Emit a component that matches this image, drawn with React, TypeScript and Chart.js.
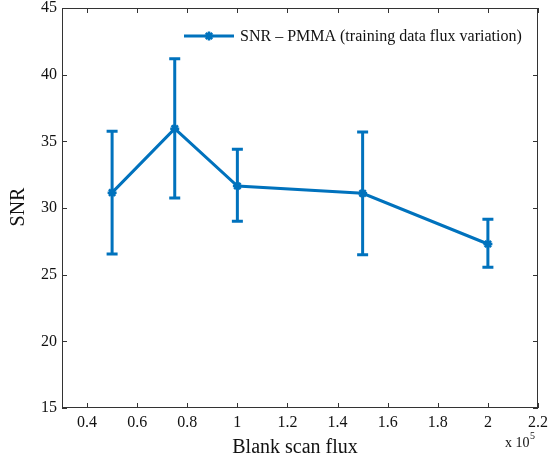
import React, { useEffect, useRef } from "react";
import { Chart, registerables } from "chart.js";

Chart.register(...registerables);

const flux = [50000, 75000, 100000, 150000, 200000];
const snrMean = [31.15, 35.95, 31.65, 31.1, 27.3];
const snrLow = [26.55, 30.75, 29.0, 26.5, 25.55];
const snrHigh = [35.75, 41.2, 34.4, 35.7, 29.15];
const xTickValues = [40000, 60000, 80000, 100000, 120000, 140000, 160000, 180000, 200000, 220000];
const yTickValues = [15, 20, 25, 30, 35, 40, 45];
const seriesLabel = "SNR \u2013 PMMA (training data flux variation)";
const xTitle = "Blank scan flux";
const yTitle = "SNR";

const BLUE = "#0072BD";
const SERIF = "'Liberation Serif', 'DejaVu Serif', serif";

const decorPlugin = {
  id: "decor",
  afterDatasetsDraw(chart: any) {
    const { ctx, chartArea: a, scales } = chart;
    const xs = scales.x;
    const ys = scales.y;
    ctx.save();
    // error bars
    ctx.strokeStyle = BLUE;
    ctx.lineWidth = 3;
    ctx.lineCap = "butt";
    for (let i = 0; i < flux.length; i++) {
      const px = xs.getPixelForValue(flux[i]);
      const pl = ys.getPixelForValue(snrLow[i]);
      const ph = ys.getPixelForValue(snrHigh[i]);
      ctx.beginPath();
      ctx.moveTo(px, pl);
      ctx.lineTo(px, ph);
      ctx.moveTo(px - 5.5, pl);
      ctx.lineTo(px + 5.5, pl);
      ctx.moveTo(px - 5.5, ph);
      ctx.lineTo(px + 5.5, ph);
      ctx.stroke();
    }
    // box
    ctx.strokeStyle = "#333";
    ctx.lineWidth = 1;
    ctx.strokeRect(a.left + 0.5, a.top + 0.5, a.right - a.left - 1, a.bottom - a.top - 1);
    // inward ticks
    ctx.beginPath();
    for (const v of xTickValues) {
      const px = Math.round(xs.getPixelForValue(v)) + 0.5;
      ctx.moveTo(px, a.bottom);
      ctx.lineTo(px, a.bottom - 5);
      ctx.moveTo(px, a.top);
      ctx.lineTo(px, a.top + 5);
    }
    for (const v of yTickValues) {
      const py = Math.round(ys.getPixelForValue(v)) + 0.5;
      ctx.moveTo(a.left, py);
      ctx.lineTo(a.left + 5, py);
      ctx.moveTo(a.right, py);
      ctx.lineTo(a.right - 5, py);
    }
    ctx.stroke();
    // axis titles
    ctx.fillStyle = "#111";
    ctx.font = `20px ${SERIF}`;
    ctx.textAlign = "center";
    ctx.textBaseline = "middle";
    ctx.fillText(xTitle, 295, 448);
    ctx.save();
    ctx.translate(19, 207);
    ctx.rotate(-Math.PI / 2);
    ctx.fillText(yTitle, 0, 0);
    ctx.restore();
    // exponent label
    ctx.font = `14px ${SERIF}`;
    ctx.textAlign = "left";
    ctx.fillText("x 10", 505, 443);
    ctx.font = `10px ${SERIF}`;
    ctx.fillText("5", 530, 436);
    // legend
    const ly = 36;
    ctx.strokeStyle = BLUE;
    ctx.lineWidth = 3;
    ctx.beginPath();
    ctx.moveTo(184, ly);
    ctx.lineTo(234, ly);
    ctx.stroke();
    drawStar(ctx, 209, ly, 4.5);
    ctx.fillStyle = "#111";
    ctx.font = `16px ${SERIF}`;
    ctx.textAlign = "left";
    ctx.fillText(seriesLabel, 240, ly + 1);
    ctx.restore();
  },
};

function drawStar(ctx: CanvasRenderingContext2D, x: number, y: number, r: number) {
  ctx.save();
  ctx.strokeStyle = BLUE;
  ctx.lineWidth = 2.5;
  ctx.beginPath();
  for (let k = 0; k < 4; k++) {
    const ang = (k * Math.PI) / 4;
    ctx.moveTo(x - r * Math.cos(ang), y - r * Math.sin(ang));
    ctx.lineTo(x + r * Math.cos(ang), y + r * Math.sin(ang));
  }
  ctx.stroke();
  ctx.restore();
}

export default function App() {
  const ref = useRef<HTMLCanvasElement>(null);
  useEffect(() => {
    document.body.style.margin = "0";
    const chart = new Chart(ref.current!, {
      type: "line",
      data: {
        datasets: [
          {
            label: seriesLabel,
            data: flux.map((f, i) => ({ x: f, y: snrMean[i] })),
            borderColor: BLUE,
            backgroundColor: BLUE,
            borderWidth: 3,
            pointStyle: "star",
            pointRadius: 4.5,
            pointBorderWidth: 2.5,
            tension: 0,
            fill: false,
          },
        ],
      },
      options: {
        responsive: false,
        animation: false,
        layout: { padding: { top: 8, right: 12, left: 0, bottom: 0 } },
        plugins: { legend: { display: false }, tooltip: { enabled: false } },
        scales: {
          x: {
            type: "linear",
            min: 30000,
            max: 220000,
            afterBuildTicks: (s: any) => {
              s.ticks = xTickValues.map((v) => ({ value: v }));
            },
            afterFit: (s: any) => {
              s.height = 53;
              s.paddingLeft = 0;
              s.paddingRight = 0;
            },
            grid: { display: false, drawTicks: false },
            border: { display: false },
            ticks: {
              padding: 5,
              maxRotation: 0,
              autoSkip: false,
              color: "#111",
              font: { family: SERIF, size: 16 },
              callback: (v: any) => String(Math.round((Number(v) / 100000) * 10) / 10),
            },
          },
          y: {
            type: "linear",
            min: 15,
            max: 45,
            afterBuildTicks: (s: any) => {
              s.ticks = yTickValues.map((v) => ({ value: v }));
            },
            afterFit: (s: any) => {
              s.width = 62;
              s.paddingTop = 0;
              s.paddingBottom = 0;
            },
            grid: { display: false, drawTicks: false },
            border: { display: false },
            ticks: {
              padding: 5,
              color: "#111",
              font: { family: SERIF, size: 16 },
            },
          },
        },
      },
      plugins: [decorPlugin],
    } as any);
    return () => chart.destroy();
  }, []);
  return (
    <div style={{ width: 550, height: 461 }}>
      <canvas ref={ref} width={550} height={461} style={{ display: "block" }} />
    </div>
  );
}
